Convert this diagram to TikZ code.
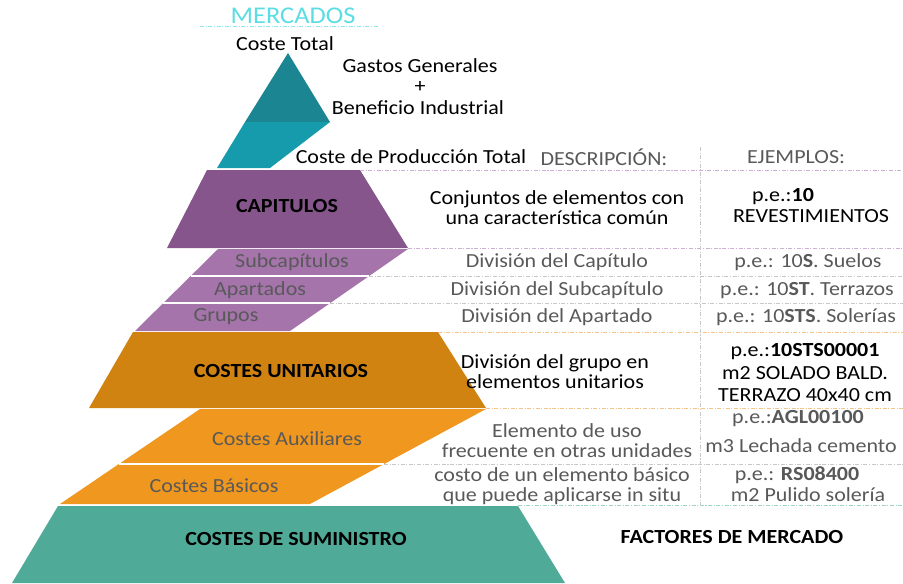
\documentclass[tikz,border=0pt]{standalone}
\usepackage{fontspec}
\setmainfont[FakeStretch=1.1]{Carlito}
\definecolor{tealD}{HTML}{1B8592}
\definecolor{tealL}{HTML}{169BAD}
\definecolor{purD}{HTML}{86558B}
\definecolor{purL}{HTML}{A474AB}
\definecolor{orD}{HTML}{D08311}
\definecolor{orL}{HTML}{EF971E}
\definecolor{grn}{HTML}{50AA98}
\definecolor{cyanT}{HTML}{5CDDE3}
\definecolor{gtxt}{HTML}{595959}
\definecolor{lpur}{HTML}{CDB0D3}
\definecolor{lor}{HTML}{F3C58A}
\definecolor{lgrn}{HTML}{9ED3C8}
\definecolor{lgray}{HTML}{C8C8C8}
\tikzset{
  txt/.style={font=\fontsize{15}{15}\selectfont, text=black, inner sep=0pt, align=center},
  gtx/.style={txt, text=gtxt},
  btx/.style={txt, font=\fontsize{15}{15}\selectfont\bfseries},
  sep/.style={line width=0.6pt, dash pattern=on 3pt off 1.2pt on 0.8pt off 1.2pt},
  wsep/.style={white, line width=1.2pt}
}
\begin{document}
\begin{tikzpicture}[x=0.75pt,y=-0.75pt]
\path[use as bounding box] (0,0) rectangle (903,583);
% pyramid
\fill[tealD] (288,53) -- (330,122) -- (245,122) -- cycle;
\fill[tealL] (245,122) -- (330,122) -- (270,168) -- (217,168) -- cycle;
\fill[purD] (207,170) -- (360,170) -- (408,248) -- (167,248) -- cycle;
\fill[purL] (218,249) -- (408,249) -- (290,331) -- (135,331) -- cycle;
\draw[wsep] (191,276) -- (369,276);
\draw[wsep] (163,303) -- (330,303);
\fill[orD] (133,332) -- (438,332) -- (486,408) -- (89,408) -- cycle;
\fill[orL] (200,409) -- (486,409) -- (310,504) -- (60,504) -- cycle;
\draw[wsep] (119,464) -- (384,464);
\fill[grn] (58,506) -- (518,506) -- (565,583) -- (12,583) -- cycle;
% separator lines
\coordinate (m1) at (200,26); \coordinate (m2) at (378,26);
\draw[sep, cyanT!70] (m1) -- (m2);
\coordinate (l1a) at (360,170); \coordinate (l1b) at (903,170);
\coordinate (l2a) at (408,248); \coordinate (l2b) at (903,248);
\coordinate (l3a) at (369,276); \coordinate (l3b) at (903,276);
\coordinate (l4a) at (330,303); \coordinate (l4b) at (903,303);
\coordinate (l5a) at (438,332); \coordinate (l5b) at (903,332);
\coordinate (l6a) at (486,408); \coordinate (l6b) at (903,408);
\coordinate (l7a) at (384,464); \coordinate (l7b) at (903,464);
\coordinate (l8a) at (518,505); \coordinate (l8b) at (903,505);
\coordinate (va) at (700,147); \coordinate (vb) at (700,505);
\draw[sep, lpur] (l1a) -- (l1b);
\draw[sep, lpur] (l2a) -- (l2b);
\draw[sep, lgray] (l3a) -- (l3b);
\draw[sep, lgray] (l4a) -- (l4b);
\draw[sep, lor] (l5a) -- (l5b);
\draw[sep, lor] (l6a) -- (l6b);
\draw[sep, lgray] (l7a) -- (l7b);
\draw[sep, lgrn] (l8a) -- (l8b);
\draw[sep, lgray] (va) -- (vb);
% texts top
\node[txt, text=cyanT, font=\fontsize{18}{18}\selectfont] (mercados) at (293,16) {MERCADOS};
\node[txt] (ctotal) at (285,44) {Coste Total};
\node[txt] (gg) at (420,66) {Gastos Generales};
\node[txt] (plus) at (420,87) {+};
\node[txt] (bi) at (418,108) {Beneficio Industrial};
\node[txt] (cpt) at (411,157) {Coste de Producción Total};
\node[gtx] (desc) at (604,157) {DESCRIPCIÓN:};
\node[gtx] (ejem) at (796,157) {EJEMPLOS:};
% pyramid labels
\node[btx] (capit) at (287,206) {CAPITULOS};
\node[gtx] (subc) at (292,262) {Subcapítulos};
\node[gtx] (apart) at (260,290) {Apartados};
\node[gtx] (grup) at (226,317) {Grupos};
\node[btx] (cunit) at (281,371) {COSTES UNITARIOS};
\node[gtx] (caux) at (287,439) {Costes Auxiliares};
\node[gtx] (cbas) at (214,486) {Costes Básicos};
\node[btx] (csum) at (296,539) {COSTES DE SUMINISTRO};
% descriptions
\node[txt] (d1) at (557,208) {Conjuntos de elementos con\\una característica común};
\node[gtx] (d2) at (557,262) {División del Capítulo};
\node[gtx] (d3) at (557,290) {División del Subcapítulo};
\node[gtx] (d4) at (557,317) {División del Apartado};
\node[txt] (d5) at (555,372) {División del grupo en\\elementos unitarios};
\node[gtx] (d6) at (567,441) {Elemento de uso\\frecuente en otras unidades};
\node[gtx] (d7) at (562,486) {costo de un elemento básico\\que puede aplicarse in situ};
% examples
\node[txt] (e1a) at (783,197) {p.e.:\textbf{10}};
\node[txt] (e1b) at (811,216) {REVESTIMIENTOS};
\node[gtx] (e2) at (808,262) {p.e.: 10\textbf{S}. Suelos};
\node[gtx] (e3) at (807,291) {p.e.: 10\textbf{ST}. Terrazos};
\node[gtx] (e4) at (806,317) {p.e.: 10\textbf{STS}. Solerías};
\node[txt] (e5a) at (805,352) {p.e.:\textbf{10STS00001}};
\node[txt] (e5b) at (805,373) {m2 SOLADO BALD.};
\node[txt] (e5c) at (805,395) {TERRAZO 40x40 cm};
\node[gtx] (e6a) at (798,419) {p.e.:\textbf{AGL00100}};
\node[gtx] (e6b) at (801,446) {m3 Lechada cemento};
\node[gtx] (e7a) at (797,475) {p.e.: \textbf{RS08400}};
\node[gtx] (e7b) at (808,495) {m2 Pulido solería};
\node[btx] (fm) at (732,537) {FACTORES DE MERCADO};
\end{tikzpicture}
\end{document}
